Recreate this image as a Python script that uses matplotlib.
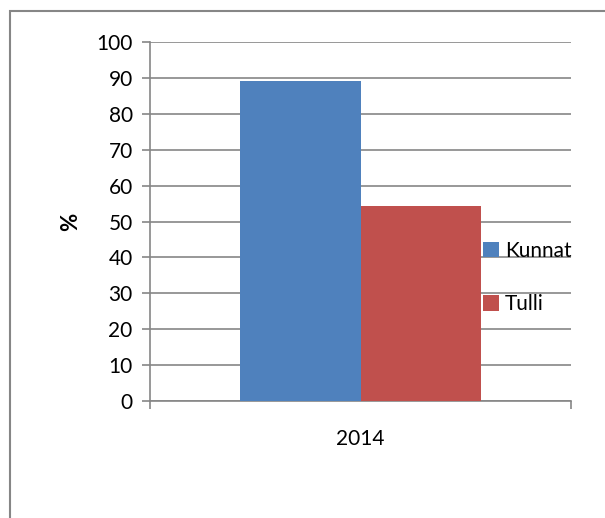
import matplotlib
matplotlib.use("Agg")
import matplotlib.pyplot as plt
from matplotlib.patches import Rectangle

categories = ["2014"]
series_names = ["Kunnat", "Tulli"]
kunnat = [89.2]
tulli = [54.4]
colors = ["#4F81BD", "#C0504D"]
yticks = [0, 10, 20, 30, 40, 50, 60, 70, 80, 90, 100]

plt.rcParams['font.family'] = ['Lato', 'DejaVu Sans']
W, H = 605, 518
fig = plt.figure(figsize=(W/100, H/100), dpi=100)

# outer chart border (only left/top visible)
fig.patches.append(Rectangle((10/W, -0.1), 1.2, (H-11)/H + 0.1, transform=fig.transFigure,
                             fill=False, edgecolor="#868686", linewidth=1.5))

ax = fig.add_axes([150/W, 1-401/H, 421/W, 359/H])
bw = 0.286
x0 = 0
ax.bar(x0 - bw/2, kunnat[0], width=bw, color=colors[0], label=series_names[0], zorder=3)
ax.bar(x0 + bw/2, tulli[0], width=bw, color=colors[1], label=series_names[1], zorder=3)

ax.set_xlim(-0.5, 0.5)
ax.set_ylim(0, 100)
ax.set_yticks(yticks)
ax.set_yticklabels([str(v) for v in yticks], fontsize=15)
ax.yaxis.grid(True, color="#868686", linewidth=1.2, zorder=0)
ax.set_axisbelow(True)
for s in ["top", "right"]:
    ax.spines[s].set_visible(False)
for s in ["left", "bottom"]:
    ax.spines[s].set_color("#868686")
    ax.spines[s].set_linewidth(1.2)
ax.tick_params(axis='y', length=6, width=1.2, color="#868686", pad=6.5)
ax.set_xticks([-0.5, 0.5])
ax.set_xticklabels(["", ""])
ax.tick_params(axis='x', which='major', length=6, width=1.2, color="#868686")
ax.set_xticks([0], minor=True)
ax.set_xticklabels(categories, minor=True, fontsize=15)
ax.tick_params(axis='x', which='minor', length=0, pad=20)

ax.set_ylabel("%", fontsize=16, fontweight='bold', labelpad=11)

leg = ax.legend(loc='upper left', bbox_to_anchor=((483-150)/421, 1-(241-42)/359), frameon=False,
                fontsize=15, handlelength=0.75, handleheight=0.75, handletextpad=0.3,
                labelspacing=1.6, borderaxespad=0, borderpad=0)

fig.savefig("out.png", dpi=100)
